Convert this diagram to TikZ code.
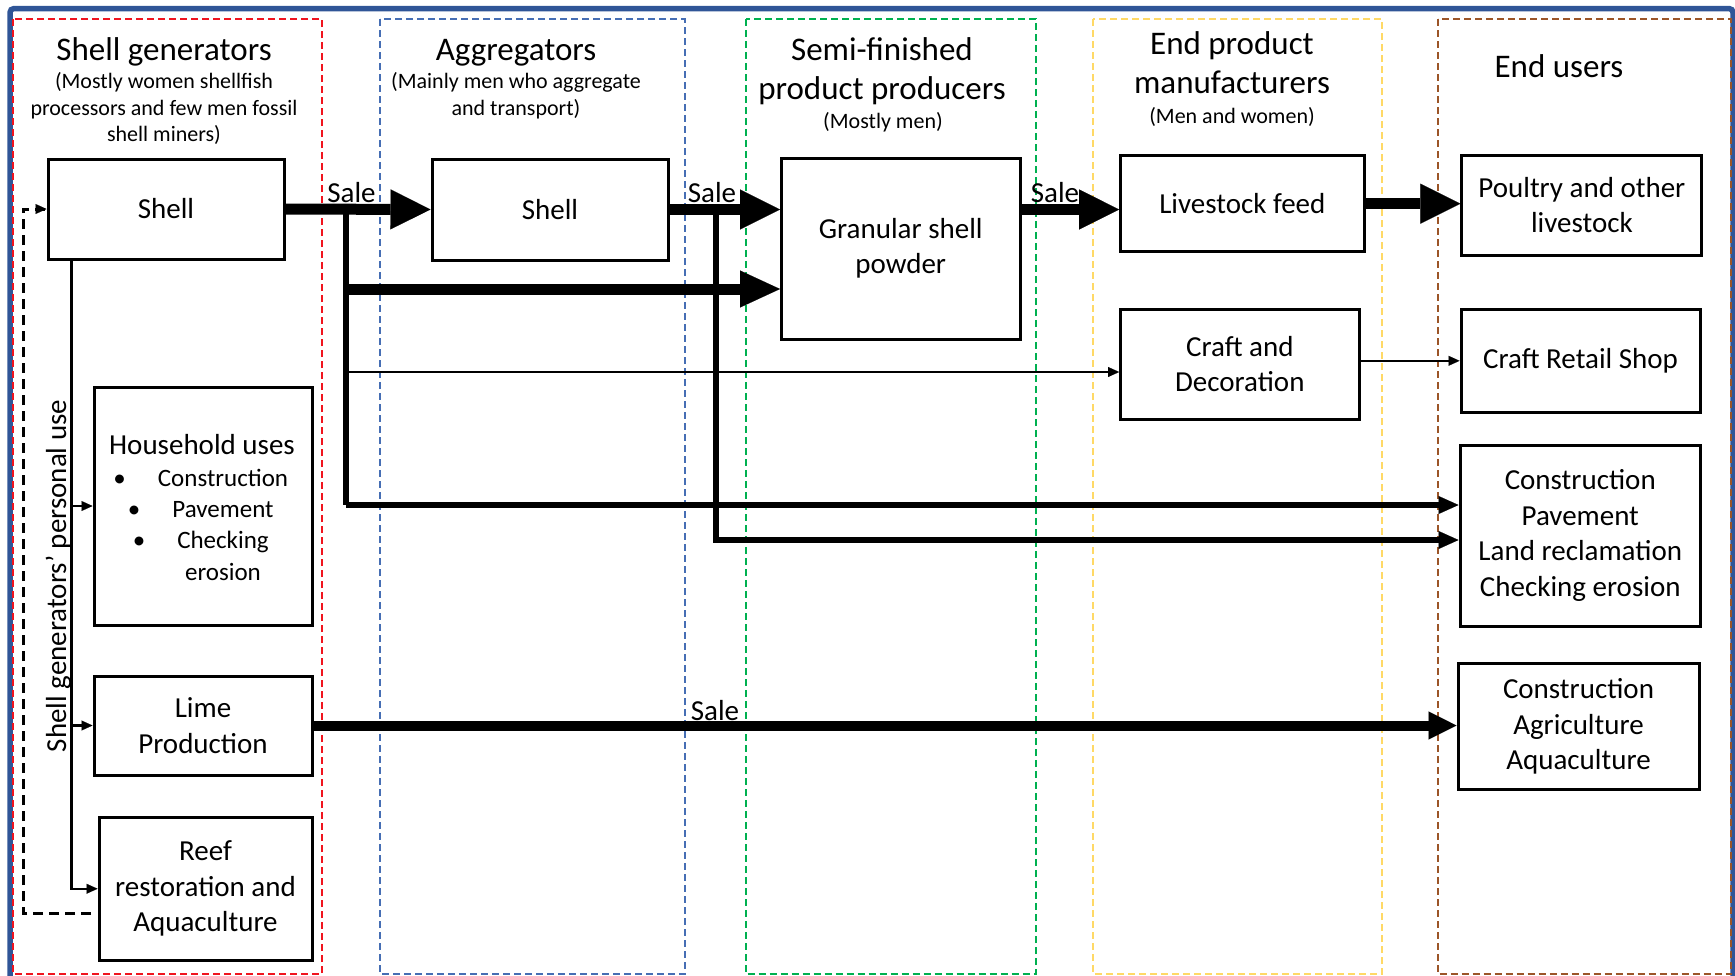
\documentclass[tikz,border=0pt]{standalone}
\usepackage{fontspec}
\setmainfont{Carlito}
\usetikzlibrary{arrows.meta}
\definecolor{frameblue}{RGB}{47,85,151}
\definecolor{colred}{RGB}{240,20,30}
\definecolor{colblue}{RGB}{70,110,180}
\definecolor{colgreen}{RGB}{0,176,80}
\definecolor{colyellow}{RGB}{255,217,102}
\definecolor{colbrown}{RGB}{155,85,40}
\begin{document}
\begin{tikzpicture}[x=1pt,y=-1pt,
  box/.style={draw=black, line width=3pt, align=center, inner sep=0pt, font=\fontsize{29}{35.5}\selectfont},
  colbox/.style={line width=2pt, dash pattern=on 7pt off 4pt},
  ttl/.style={anchor=base, inner sep=0pt, font=\fontsize{33}{40}\selectfont},
  sub/.style={anchor=base, inner sep=0pt, font=\fontsize{22}{27}\selectfont},
  lbl/.style={anchor=base, inner sep=0pt, font=\fontsize{29}{35}\selectfont},
  itm/.style={anchor=base, inner sep=0pt, font=\fontsize{25}{31}\selectfont},
  bigarrow/.style={line width=11pt, -{Triangle[length=40pt,width=40pt,line width=0.1pt]}},
  midarrow/.style={line width=10pt, -{Triangle[length=28pt,width=28pt,line width=0.1pt]}},
  medarrow/.style={line width=5.5pt, -{Triangle[length=20pt,width=18pt,line width=0.1pt]}},
  medline/.style={line width=5.5pt},
  thinarrow/.style={line width=2.5pt, -{Triangle[length=11pt,width=10pt,line width=0.1pt]}},
  thinline/.style={line width=2.5pt},
  persdash/.style={line width=3pt, dash pattern=on 10pt off 6pt}
]
\useasboundingbox (0,0) rectangle (1735,975);
% outer frame
\draw[frameblue, line width=5.5pt, rounded corners=4pt] (10,8.5) rectangle (1733,1000);
% columns
\draw[colbox, colred] (13,19) rectangle (322,974);
\draw[colbox, colblue] (380,19) rectangle (684.5,974);
\draw[colbox, colgreen] (745.5,19) rectangle (1035.5,974);
\draw[colbox, colyellow] (1093,19) rectangle (1382,974);
\draw[colbox, colbrown] (1437.5,19) rectangle (1731,974);
% headers
\node[ttl] (h1a) at (164,60) {Shell generators};
\node[sub] (h1b) at (164,88) {(Mostly women shellfish};
\node[sub] (h1c) at (164,115) {processors and few men fossil};
\node[sub] (h1d) at (164,141.5) {shell miners)};
\node[ttl] (h2a) at (516,60) {Aggregators};
\node[sub] (h2b) at (516,88) {(Mainly men who aggregate};
\node[sub] (h2c) at (516,115) {and transport)};
\node[ttl] (h3a) at (882,60) {Semi-finished};
\node[ttl] (h3b) at (882,99) {product producers};
\node[sub] (h3c) at (883,128) {(Mostly men)};
\node[ttl] (h4a) at (1232,54) {End product};
\node[ttl] (h4b) at (1232,93) {manufacturers};
\node[sub] (h4c) at (1232,123) {(Men and women)};
\node[ttl] (h5a) at (1559,77) {End users};
% boxes
\node[box, minimum width=236pt, minimum height=100pt] (sg) at (166,209) {Shell};
\node[box, minimum width=236pt, minimum height=101pt] (ag) at (550,209.5) {Shell};
\node[box, minimum width=238.5pt, minimum height=181pt] (gr) at (900.75,248.5) {Granular shell\\powder};
\node[box, minimum width=243.4pt, minimum height=96pt] (lf) at (1242.3,203.7) {Livestock feed};
\node[box, minimum width=240pt, minimum height=100pt] (po) at (1581.9,205) {Poultry and other\\livestock};
\node[box, minimum width=238.4pt, minimum height=110pt] (cd) at (1239.8,364) {Craft and\\Decoration};
\node[box, minimum width=239pt, minimum height=103.6pt] (cr) at (1580.5,360.8) {Craft Retail Shop};
\node[box, minimum width=240.5pt, minimum height=181pt] (cp) at (1580.25,535.5) {Construction\\Pavement\\Land reclamation\\Checking erosion};
\node[box, minimum width=241pt, minimum height=125.3pt] (ca) at (1578.5,726.4) {Construction\\Agriculture\\Aquaculture};
\node[box, minimum width=218pt, minimum height=238pt] (hh) at (203,506) {};
\node[box, minimum width=218pt, minimum height=99pt] (li) at (203,725.5) {Lime\\Production};
\node[box, minimum width=213pt, minimum height=142.5pt] (re) at (205.5,888.75) {Reef\\restoration and\\Aquaculture};
% household contents
\node[lbl] (hht) at (202,454) {Household uses};
\node[itm] (hb1) at (119.6,486.3) {•};
\node[itm] (hi1) at (223,486.3) {Construction};
\node[itm] (hb2) at (134,517.4) {•};
\node[itm] (hi2) at (223,517.4) {Pavement};
\node[itm] (hb3) at (139,548.5) {•};
\node[itm] (hi3) at (223,548.5) {Checking};
\node[itm] (hi4) at (223,580) {erosion};
% personal use label
\node[lbl, rotate=90] (pu) at (66,576) {Shell generators’ personal use};
% sale labels
\node[lbl] (s1) at (351.5,202) {Sale};
\node[lbl] (s2) at (712,202) {Sale};
\node[lbl] (s3) at (1055,202) {Sale};
\node[lbl] (s4) at (715,720) {Sale};
% coordinates
\coordinate (b1) at (346,209);
\coordinate (b2) at (716,209.5);
\coordinate (g2) at ([yshift=-40.5pt]gr.west);
\coordinate (c3) at ([yshift=-8pt]cd.west);
\coordinate (p1) at ([yshift=30.5pt]cp.west);
\coordinate (p2) at ([yshift=-4.5pt]cp.west);
\coordinate (t0) at ([xshift=25pt]sg.south west);
\coordinate (d0) at (91,913);
\coordinate (d1) at (23,913);
% connectors
\draw[bigarrow] (sg.east) -- (ag.west);
\draw[bigarrow] (ag.east) -- (ag.east -| gr.west);
\draw[bigarrow] (gr.east |- ag.east) -- (lf.west |- ag.east);
\draw[bigarrow] (lf.east) -- (lf.east -| po.west);
\draw[medline] (b1) -- (b1 |- p1);
\draw[medarrow] (b1 |- p1) -- (p1);
\draw[line width=11pt, -{Triangle[length=40pt,width=37pt,line width=0.1pt]}] ([xshift=-2.75pt]b1 |- g2) -- (g2);
\draw[line width=2.2pt, -{Triangle[length=11pt,width=10pt,line width=0.1pt]}] (b1 |- c3) -- (c3);
\draw[medline] (b2) -- (b2 |- p2);
\draw[medarrow] ([xshift=-2.75pt]b2 |- p2) -- (p2);
\draw[midarrow] (li.east) -- (li.east -| ca.west);
\draw[thinarrow] (cd.east |- cr.west) -- (cr.west);
\draw[thinline] (t0) -- (t0 |- re.west);
\draw[thinarrow] ([xshift=-1.25pt]t0 |- re.west) -- (re.west);
\draw[thinarrow] (t0 |- hh.west) -- (hh.west);
\draw[thinarrow] (t0 |- li.west) -- (li.west);
\draw[persdash] (d0) -- (d1) |- (sg.west);
\draw[thinarrow] ([xshift=-8pt]sg.west) -- (sg.west);
\end{tikzpicture}
\end{document}
